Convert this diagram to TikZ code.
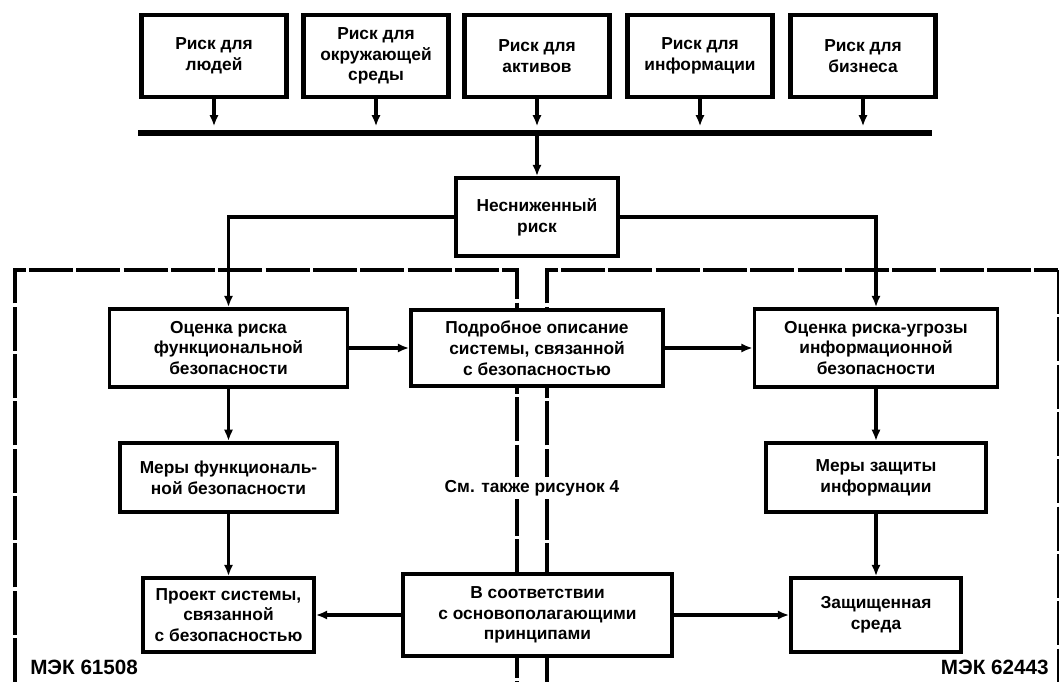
\documentclass[tikz,border=0pt]{standalone}
\usepackage{fontspec}
\setmainfont{Liberation Sans}
\usetikzlibrary{arrows.meta}
\begin{document}
\begin{tikzpicture}[x=0.75pt,y=-0.75pt,
  box/.style={draw,line width=2.8pt,fill=white,align=center,
    font=\bfseries\fontsize{13}{15.6}\selectfont,inner sep=0pt},
  topbox/.style={box,line width=3.2pt,minimum width=108.75pt,minimum height=61.5pt},
  conn/.style={line width=2.5pt},
  arr/.style={conn,-{Latex[length=8.5pt,width=7pt]}},
  frame/.style={line width=2.4pt,dash pattern=on 33pt off 2.5pt},
  thinframe/.style={line width=1.3pt,dash pattern=on 33pt off 2.5pt},
  lbl/.style={font=\bfseries\fontsize{15.5}{18}\selectfont,inner sep=0pt},
  note/.style={font=\bfseries\fontsize{13}{15.6}\selectfont,fill=white,inner sep=2pt}]
\useasboundingbox (0,0) rectangle (1061,682);

% dashed frames
\draw[frame] (15,682) -- (15,270) -- (517,270) -- (517,682);
\draw[frame] (547,682) -- (547,270) -- (1058,270);
\draw[thinframe] (1058,270) -- (1058,682);

% top boxes
\node[topbox] (b1) at (214,56) {Риск для\\людей};
\node[topbox] (b2) at (376,56) {Риск для\\окружающей\\среды};
\node[topbox] (b3) at (537,56) {Риск для\\активов};
\node[topbox] (b4) at (700,56) {Риск для\\информации};
\node[topbox] (b5) at (863,56) {Риск для\\бизнеса};

% bus
\coordinate (busL) at (138,133);
\coordinate (busR) at (932,133);
\draw[line width=3.8pt] (busL) -- (busR);
\foreach \b in {b1,b2,b3,b4,b5}{
  \draw[arr] (\b.south) -- ([yshift=5pt]\b.south |- busL);
}

% unreduced risk
\node[box,minimum width=121.5pt,minimum height=58.5pt] (nr) at (537,217) {Несниженный\\риск};
\draw[arr] (b3.south |- busL) -- (nr.north);

% second row
\node[box,minimum width=178.5pt,minimum height=58.5pt] (fr) at (228.5,348) {Оценка риска\\функциональной\\безопасности};
\node[box,minimum width=189pt,minimum height=57pt] (sd) at (537,348) {Подробное описание\\системы, связанной\\с безопасностью};
\node[box,minimum width=182.25pt,minimum height=58.5pt] (ir) at (876,348) {Оценка риска-угрозы\\информационной\\безопасности};

\draw[arr] (nr.west) -| (fr.north);
\draw[arr] (nr.east) -| (ir.north);
\draw[arr] (fr.east) -- (sd.west);
\draw[arr] (sd.east) -- (ir.west);

% third row
\node[box,minimum width=162.75pt,minimum height=52pt] (fm) at (228.5,477.5) {Меры функциональ-\\ной безопасности};
\node[box,minimum width=165pt,minimum height=52pt] (im) at (876,477.5) {Меры защиты\\информации};
\draw[arr] (fr.south) -- (fm.north);
\draw[arr] (ir.south) -- (im.north);

\node[note] (see) at (532,488) {См. также рисунок 4};

% fourth row
\node[box,minimum width=128.25pt,minimum height=55.5pt] (pd) at (228.5,615) {Проект системы,\\связанной\\с безопасностью};
\node[box,minimum width=201.75pt,minimum height=61pt] (fp) at (537.5,615) {В соответствии\\с основополагающими\\принципами};
\node[box,minimum width=127.5pt,minimum height=55.5pt] (se) at (876,615) {Защищенная\\среда};
\draw[arr] (fm.south) -- (pd.north);
\draw[arr] (im.south) -- (se.north);
\draw[arr] (fp.west) -- (pd.east);
\draw[arr] (fp.east) -- (se.west);

% labels
\node[lbl,anchor=west] (l1) at (30,667) {МЭК 61508};
\node[lbl,anchor=east] (l2) at (1049,667) {МЭК 62443};
\end{tikzpicture}
\end{document}
